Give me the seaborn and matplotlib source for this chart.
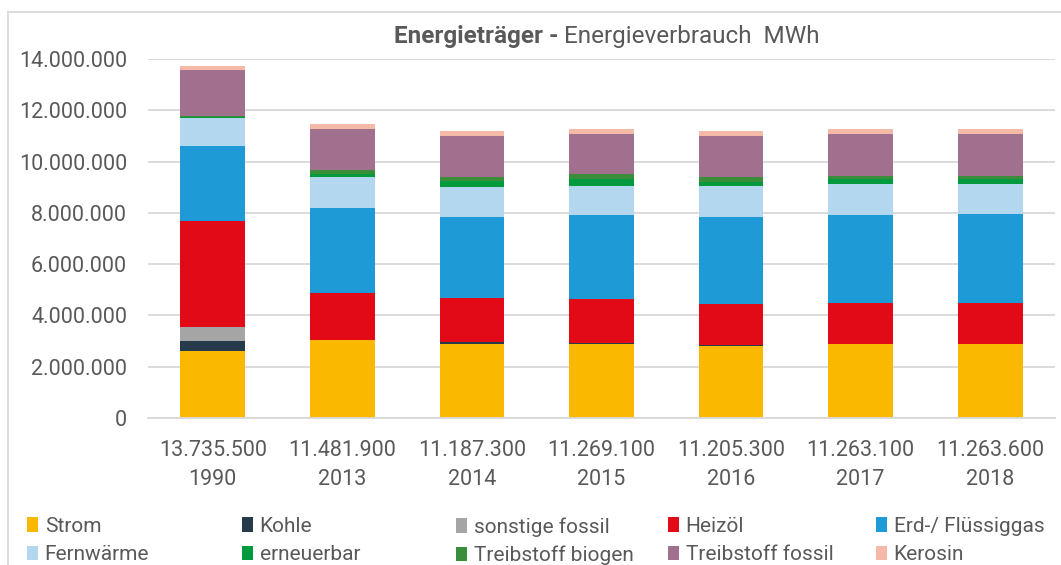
import matplotlib

matplotlib.use("Agg")
import matplotlib.pyplot as plt
import pandas as pd
import seaborn as sns
from matplotlib.patches import Patch, Rectangle
from matplotlib.ticker import FuncFormatter

# --- Daten (MWh) -------------------------------------------------------------
YEARS = ["1990", "2013", "2014", "2015", "2016", "2017", "2018"]

SERIES = [
    "Strom", "Kohle", "sonstige fossil", "Heizöl", "Erd-/ Flüssiggas",
    "Fernwärme", "erneuerbar", "Treibstoff biogen", "Treibstoff fossil", "Kerosin",
]

strom = [2620000, 3040000, 2886000, 2886000, 2820000, 2870000, 2870000]
kohle = [390000, 0, 90000, 20000, 10000, 0, 0]
sonstige_fossil = [540000, 0, 0, 0, 0, 0, 0]
heizoel = [4150000, 1830000, 1700000, 1720000, 1600000, 1615000, 1615000]
erdgas = [2920000, 3300000, 3160000, 3300000, 3420000, 3445000, 3455000]
fernwaerme = [1070000, 1210000, 1170000, 1130000, 1210000, 1180000, 1170000]
erneuerbar = [50000, 150000, 250000, 250000, 140000, 200000, 200000]
treib_biogen = [20000, 130000, 130000, 190000, 200000, 140000, 140000]
treib_fossil = [1825500, 1611900, 1611300, 1583100, 1615300, 1623100, 1613600]
kerosin = [150000, 210000, 190000, 190000, 190000, 190000, 200000]

VALUES = [strom, kohle, sonstige_fossil, heizoel, erdgas,
          fernwaerme, erneuerbar, treib_biogen, treib_fossil, kerosin]

COLORS = {
    "Strom": "#FBB800",
    "Kohle": "#263A4C",
    "sonstige fossil": "#A5A5A5",
    "Heizöl": "#E10A16",
    "Erd-/ Flüssiggas": "#1E9AD7",
    "Fernwärme": "#B3D7EE",
    "erneuerbar": "#009A3E",
    "Treibstoff biogen": "#3A8E3A",
    "Treibstoff fossil": "#A0708E",
    "Kerosin": "#F5B9A7",
}

TEXT = "#595959"
GRID = "#D9D9D9"


def dots(v):
    return f"{int(round(v)):,}".replace(",", ".")


rows = []
for name, vals in zip(SERIES, VALUES):
    for year, v in zip(YEARS, vals):
        rows.append({"Jahr": year, "Traeger": name, "MWh": v})
df = pd.DataFrame(rows)
totals = df.groupby("Jahr", sort=False)["MWh"].sum()

sns.set_theme(style="white")
plt.rcParams["font.family"] = ["Roboto", "DejaVu Sans"]

fig = plt.figure(figsize=(10.61, 5.65), dpi=100)
ax = fig.add_axes([148 / 1061, 1 - 418 / 565, 907 / 1061, 359 / 565])

sns.histplot(
    data=df, x="Jahr", weights="MWh", hue="Traeger",
    hue_order=SERIES[::-1], palette=COLORS, multiple="stack",
    discrete=True, shrink=0.5, alpha=1, linewidth=0, legend=False, ax=ax,
)

ax.set_ylim(0, 14000000)
ax.set_xlim(-0.5, len(YEARS) - 0.5)
ax.set_yticks(range(0, 14000001, 2000000))
ax.yaxis.set_major_formatter(FuncFormatter(lambda v, _: dots(v)))
ax.set_xticks(range(len(YEARS)),
              [f"{dots(totals[y])}\n{y}" for y in YEARS])
ax.set_xlabel("")
ax.set_ylabel("")
ax.tick_params(axis="both", length=0, labelsize=15.5, labelcolor=TEXT)
ax.tick_params(axis="y", pad=15)
ax.tick_params(axis="x", pad=15.5)
for lab in ax.get_xticklabels():
    lab.set_linespacing(1.5)

ax.grid(axis="y", color=GRID, linewidth=1.3)
ax.set_axisbelow(True)
for side in ["top", "right", "left"]:
    ax.spines[side].set_visible(False)
ax.spines["bottom"].set_color(GRID)
ax.spines["bottom"].set_linewidth(1.3)

# Titel: fetter und normaler Teil nebeneinander
fig.canvas.draw()
r = fig.canvas.get_renderer()
t1 = fig.text(0, 1 - 37 / 565, "Energieträger - ", fontsize=17.5, fontweight="bold",
              color=TEXT, va="center", ha="left")
t2 = fig.text(0, 1 - 37 / 565, "Energieverbrauch  MWh", fontsize=17.5,
              color=TEXT, va="center", ha="left")
w1 = t1.get_window_extent(r).width
w2 = t2.get_window_extent(r).width
x0 = 607 - (w1 + w2) / 2
t1.set_x(x0 / 1061)
t2.set_x((x0 + w1) / 1061)

# Legende: 5 Spalten mit je 2 Eintraegen
col_x = [27, 242, 456, 668, 876]
for i, x in enumerate(col_x):
    names = [SERIES[i], SERIES[i + 5]]
    handles = [Patch(facecolor=COLORS[n], edgecolor="none") for n in names]
    leg = fig.legend(
        handles, names, loc="upper left",
        bbox_to_anchor=(x / 1061, 1 - 517 / 565),
        frameon=False, fontsize=15, handlelength=0.55, handleheight=0.7,
        handletextpad=0.3, labelspacing=0.45, borderpad=0, borderaxespad=0,
    )
    for t in leg.get_texts():
        t.set_color(TEXT)

# Rahmen des Diagrammbereichs
fig.patches.append(Rectangle((8 / 1061, -0.1), 1.2, 1.1 - 12 / 565,
                             transform=fig.transFigure, fill=False,
                             edgecolor=GRID, linewidth=1.3))

fig.savefig("out.png", dpi=100)
